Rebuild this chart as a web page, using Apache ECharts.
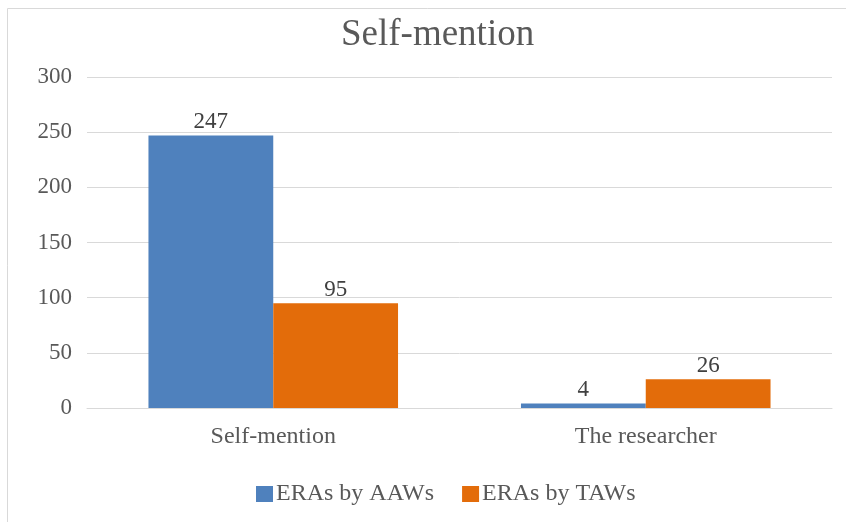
<!DOCTYPE html>
<html><head><meta charset="utf-8">
<script src="https://cdn.jsdelivr.net/npm/echarts@6/dist/echarts.min.js"></script>
<style>html,body{margin:0;padding:0;background:#fff}#c{width:846px;height:522px}</style>
</head><body><div id="c"></div>
<script>
const categories = ["Self-mention", "The researcher"];
const seriesNames = ["ERAs by AAWs", "ERAs by TAWs"];
const aawValues = [247, 4];
const tawValues = [95, 26];
const yTicks = [0, 50, 100, 150, 200, 250, 300];

const font = "'Liberation Serif', 'Times New Roman', serif";
const chart = echarts.init(document.getElementById('c'));
chart.setOption({
  animation: false,
  color: ['#4f81bd', '#e36c0a'],
  graphic: [{type:'rect', shape:{x:7.5,y:8.5,width:850,height:530}, style:{fill:'none', stroke:'#d9d9d9', lineWidth:1}, z:-1}],
  title: {text:'Self-mention', left:336, top:12, textStyle:{fontFamily:font, fontSize:37, fontWeight:'normal', color:'#595959'}},
  grid: {left:87, right:14, top:77, bottom:114},
  xAxis: {type:'category', data:categories,
    axisLine:{lineStyle:{color:'#d9d9d9', width:1}}, axisTick:{show:false},
    axisLabel:{fontFamily:font, fontSize:24, color:'#595959', margin:17}},
  yAxis: {type:'value', min:yTicks[0], max:yTicks[yTicks.length-1], interval:50,
    axisLine:{show:false}, axisTick:{show:false},
    splitLine:{lineStyle:{color:'#d9d9d9', width:1}},
    axisLabel:{fontFamily:font, fontSize:23, color:'#595959', margin:15}},
  legend: {top:477, left:251, itemWidth:17, itemHeight:16, itemGap:28, icon:'rect',
    textStyle:{fontFamily:font, fontSize:24, color:'#595959', padding:[0,0,0,-2]}, data:seriesNames},
  series: [
    {name:seriesNames[0], type:'bar', data:aawValues, barGap:'0%', barCategoryGap:'33%',
      label:{show:true, position:'top', distance:2, fontFamily:font, fontSize:23, color:'#404040'}},
    {name:seriesNames[1], type:'bar', data:tawValues, barGap:'0%', barCategoryGap:'33%',
      label:{show:true, position:'top', distance:2, fontFamily:font, fontSize:23, color:'#404040'}}
  ]
});
</script></body></html>
